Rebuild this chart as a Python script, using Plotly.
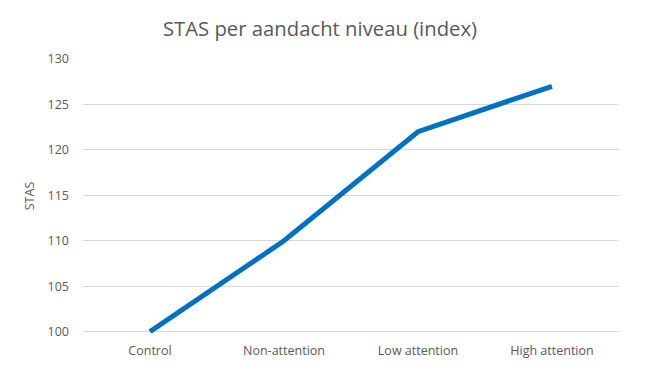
import plotly.graph_objects as go

categories = ["Control", "Non-attention", "Low attention", "High attention"]
stas_values = [100, 110, 122, 127]
y_ticks = [100, 105, 110, 115, 120, 125, 130]

# page body has an 8px default margin; figure is sized/margined to compensate
OFF = 8
W, H = 654 - OFF, 373 - OFF

fig = go.Figure()
fig.add_trace(go.Scatter(
    x=categories, y=stas_values, mode="lines",
    line=dict(color="#0070C0", width=5),
    cliponaxis=False, showlegend=False,
))

font_color = "#595959"
fig.update_layout(
    width=W, height=H,
    paper_bgcolor="white", plot_bgcolor="white",
    margin=dict(l=83 - OFF, r=35, t=59 - OFF, b=40, autoexpand=False),
    font=dict(family="Open Sans", color=font_color, size=12.5),
    title=dict(text="STAS per aandacht niveau (index)", x=(320 - OFF) / W, xanchor="center",
               y=1 - (29 - OFF) / H, yanchor="middle",
               font=dict(size=20.3, color=font_color, family="Open Sans")),
)
fig.update_xaxes(
    type="category", range=[-0.5, 3.5], showgrid=False, zeroline=False,
    showline=False, ticks="", ticklabelstandoff=8,
    tickfont=dict(size=12.5, color=font_color),
)
fig.update_yaxes(
    range=[99.85, 130], tickvals=y_ticks, showgrid=True, gridcolor="#D9D9D9",
    gridwidth=1, zeroline=False, showline=False, ticks="",
    ticklabelstandoff=13,
    title=dict(text="STAS", font=dict(size=12.5, color=font_color), standoff=10),
    tickfont=dict(size=12.5, color=font_color),
)
fig.write_html("out.html")
